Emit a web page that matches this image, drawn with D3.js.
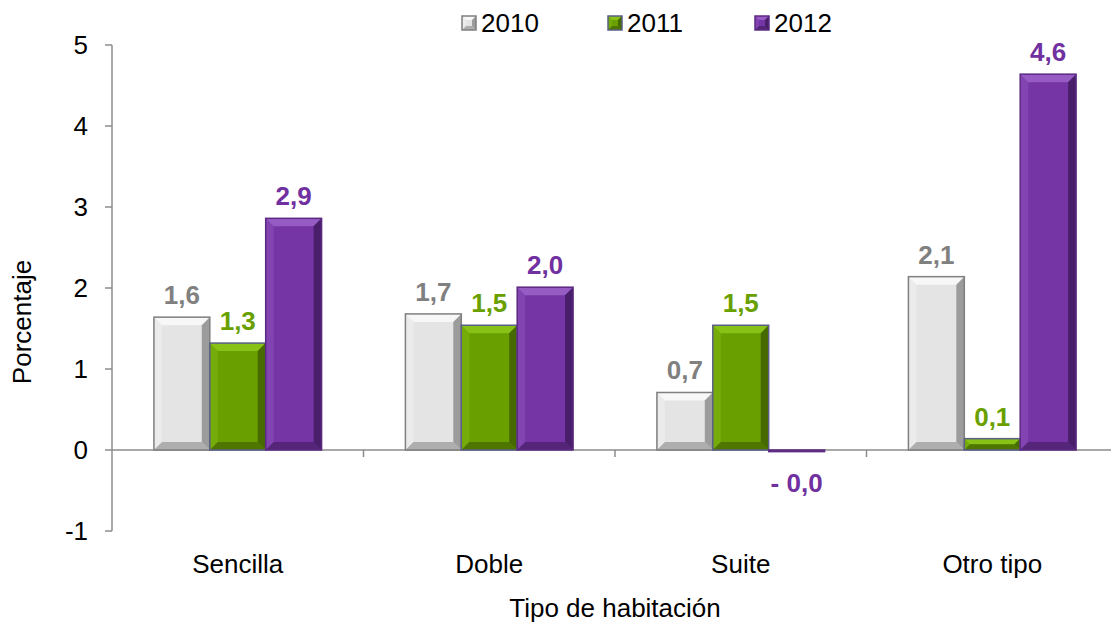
<!DOCTYPE html>
<html>
<head>
<meta charset="utf-8">
<script src="https://cdn.jsdelivr.net/npm/d3@7"></script>
<style>
  body { margin: 0; background: #fff; }
  text { font-family: "Liberation Sans", Arial, sans-serif; }
</style>
</head>
<body>
<div id="chart"></div>
<script>
var categories = ["Sencilla", "Doble", "Suite", "Otro tipo"];
var years = ["2010", "2011", "2012"];
var values2010 = [1.64, 1.68, 0.71, 2.14];
var values2011 = [1.32, 1.54, 1.54, 0.14];
var values2012 = [2.86, 2.01, -0.02, 4.64];
var yTicks = [-1, 0, 1, 2, 3, 4, 5];

var seriesValues = [values2010, values2011, values2012];
var palette = [
  { face: "#e4e4e4", light: "#f8f8f8", dark: "#8a8a8a", edge: "#7f7f7f", label: "#808080" },
  { face: "#6a9f00", light: "#8cc51a", dark: "#3d5c00", edge: "#5a5f86", label: "#6a9f00" },
  { face: "#7535a5", light: "#9a60c8", dark: "#3f1a5c", edge: "#5b2a82", label: "#7030a0" }
];

var width = 1111, height = 625;
var margin = { left: 112, right: -7, top: 45, bottom: 94 };
var fontSize = "26px";

var svg = d3.select("#chart").append("svg")
    .attr("width", width)
    .attr("height", height);

var x0 = d3.scaleBand()
    .domain(categories)
    .range([margin.left, width - margin.right])
    .paddingInner(0).paddingOuter(0);

var x1 = d3.scaleBand()
    .domain(years)
    .range([0, x0.bandwidth()])
    .paddingInner(0).paddingOuter(0.75);

var y = d3.scaleLinear()
    .domain([-1, 5])
    .range([height - margin.bottom, margin.top]);

// y axis
svg.append("line")
    .attr("x1", margin.left).attr("x2", margin.left)
    .attr("y1", y(5)).attr("y2", y(-1))
    .style("stroke", "#8c8c8c").style("stroke-width", 1.5);

svg.selectAll(".ytick").data(yTicks).enter().append("line")
    .attr("x1", margin.left - 7).attr("x2", margin.left)
    .attr("y1", function(d) { return y(d); })
    .attr("y2", function(d) { return y(d); })
    .style("stroke", "#8c8c8c").style("stroke-width", 1.5);

svg.selectAll(".ylab").data(yTicks).enter().append("text")
    .attr("x", margin.left - 24)
    .attr("y", function(d) { return y(d); })
    .attr("dy", "0.36em")
    .attr("text-anchor", "end")
    .style("font-size", fontSize)
    .text(function(d) { return d; });

// x axis at zero
svg.append("line")
    .attr("x1", margin.left).attr("x2", width - margin.right)
    .attr("y1", y(0)).attr("y2", y(0))
    .style("stroke", "#8c8c8c").style("stroke-width", 1.5);

svg.selectAll(".xtick").data(categories.slice(1)).enter().append("line")
    .attr("x1", function(d) { return x0(d); })
    .attr("x2", function(d) { return x0(d); })
    .attr("y1", y(0)).attr("y2", y(0) + 7)
    .style("stroke", "#8c8c8c").style("stroke-width", 1.5);

svg.selectAll(".xlab").data(categories).enter().append("text")
    .attr("x", function(d) { return x0(d) + x0.bandwidth() / 2; })
    .attr("y", 573)
    .attr("text-anchor", "middle")
    .style("font-size", fontSize)
    .text(function(d) { return d; });

svg.append("text")
    .attr("x", 615).attr("y", 617)
    .attr("text-anchor", "middle")
    .style("font-size", fontSize)
    .text("Tipo de habitación");

svg.append("text")
    .attr("transform", "translate(31," + 322 + ") rotate(-90)")
    .attr("text-anchor", "middle")
    .style("font-size", fontSize)
    .text("Porcentaje");

// bevelled bars
function bevelBar(g, bx, by, bw, bh, c, size) {
  var b = Math.min(size, bh / 2, bw / 2);
  var x2 = bx + bw, y2 = by + bh;
  g.append("rect").attr("x", bx).attr("y", by).attr("width", bw).attr("height", bh)
      .style("fill", c.face);
  if (b > 0.5) {
    g.append("polygon").style("fill", c.light).style("opacity", 0.9)
        .attr("points", [[bx, by], [x2, by], [x2 - b, by + b], [bx + b, by + b]].join(" "));
    g.append("polygon").style("fill", c.light).style("opacity", 0.35)
        .attr("points", [[bx, by], [bx + b, by + b], [bx + b, y2 - b], [bx, y2]].join(" "));
    g.append("polygon").style("fill", c.dark).style("opacity", 0.8)
        .attr("points", [[x2, by], [x2, y2], [x2 - b, y2 - b], [x2 - b, by + b]].join(" "));
    g.append("polygon").style("fill", c.dark).style("opacity", 0.6)
        .attr("points", [[bx, y2], [x2, y2], [x2 - b, y2 - b], [bx + b, y2 - b]].join(" "));
  }
  g.append("rect").attr("x", bx).attr("y", by).attr("width", bw).attr("height", Math.max(bh, 0.5))
      .style("fill", "none").style("stroke", c.edge).style("stroke-width", 1.5);
}

function fmt(v) {
  var s = d3.format(".1f")(Math.abs(v)).replace(".", ",");
  return v < 0 ? "- " + s : s;
}

years.forEach(function(yr, si) {
  var g = svg.append("g").attr("class", "series-" + yr);
  seriesValues[si].forEach(function(v, ci) {
    var bx = x0(categories[ci]) + x1(yr);
    var top = y(Math.max(0, v)), bot = y(Math.min(0, v));
    bevelBar(g, bx, top, x1.bandwidth(), bot - top, palette[si], 8);
    g.append("text")
        .attr("x", bx + x1.bandwidth() / 2)
        .attr("y", v >= 0 ? top - 13 : bot + 40)
        .attr("text-anchor", "middle")
        .style("font-size", fontSize)
        .style("font-weight", "bold")
        .style("fill", palette[si].label)
        .text(fmt(v));
  });
});

// legend
var legendX = [462, 608, 755];
var legend = svg.append("g").attr("class", "legend");
years.forEach(function(yr, i) {
  var lg = legend.append("g");
  bevelBar(lg, legendX[i], 16, 14, 14, palette[i], 4);
  lg.append("text")
      .attr("x", legendX[i] + 19)
      .attr("y", 23)
      .attr("dy", "0.36em")
      .style("font-size", fontSize)
      .text(yr);
});
</script>
</body>
</html>
